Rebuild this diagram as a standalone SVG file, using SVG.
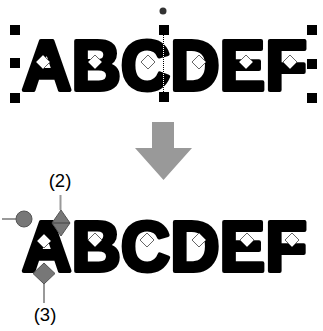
<svg xmlns="http://www.w3.org/2000/svg" width="323" height="331" viewBox="0 0 323 331">
<style>
.big{font-family:"Liberation Sans",Arial,sans-serif;font-weight:bold;font-size:71px;fill:#000;stroke:#000;stroke-width:4;stroke-linejoin:round}
.dia{fill:#fff;stroke:#666;stroke-width:1}
.h{fill:#000}
.lab{font-family:"Liberation Sans",Arial,sans-serif;font-size:18.5px;fill:#000;text-anchor:middle}
.gl{stroke:#999;stroke-width:2;fill:none}
.gh{fill:#777;stroke:#555;stroke-width:1}
</style>
<defs>
<polygon id="d" class="dia" points="0,-7 7,0 0,7 -7,0"/>
</defs>
<g id="top-text">
<text class="big" x="22" y="90" textLength="285" lengthAdjust="spacingAndGlyphs">ABCDEF</text>
<use href="#d" x="43" y="62"/>
<use href="#d" x="95" y="62"/>
<use href="#d" x="148" y="62"/>
<use href="#d" x="199" y="62"/>
<use href="#d" x="246" y="62"/>
<use href="#d" x="290" y="62"/>
</g>
<g id="selection">
<line x1="163.5" y1="35" x2="163.5" y2="93" stroke="#000" stroke-width="1" stroke-dasharray="1 1"/>
<line x1="163.5" y1="36" x2="163.5" y2="93" stroke="#fff" stroke-width="1" stroke-dasharray="1 1"/>
<rect class="h" x="10" y="25" width="10" height="10"/>
<rect class="h" x="10" y="58" width="10" height="10"/>
<rect class="h" x="10" y="93" width="10" height="10"/>
<rect class="h" x="159" y="25" width="10" height="10"/>
<rect class="h" x="159" y="92" width="10" height="10"/>
<rect class="h" x="307" y="25" width="10" height="10"/>
<rect class="h" x="307" y="59" width="10" height="10"/>
<rect class="h" x="307" y="93" width="10" height="10"/>
<circle cx="163" cy="11" r="3.5" fill="#333"/>
</g>
<g id="arrow">
<polygon points="152,122 174,122 174,148 192,148 163.5,180 135,148 152,148" fill="#999"/>
</g>
<g id="bottom-text">
<text class="big" x="22" y="270.5" textLength="285" lengthAdjust="spacingAndGlyphs">ABCDEF</text>
<use href="#d" x="44" y="241"/>
<use href="#d" x="95" y="240"/>
<use href="#d" x="147" y="240"/>
<use href="#d" x="199" y="240"/>
<use href="#d" x="247" y="240"/>
<use href="#d" x="292" y="240"/>
</g>
<g id="connectors">
<line class="gl" x1="2" y1="219" x2="16" y2="219"/>
<line class="gl" x1="60.5" y1="195" x2="60.5" y2="210"/>
<line class="gl" x1="44" y1="284" x2="44" y2="303"/>
</g>
<g id="handle-circle">
<circle class="gh" cx="24" cy="219" r="8"/>
</g>
<g id="handle-2">
<polygon class="gh" points="61,210 70,223 61,236 52,223"/>
<line x1="52" y1="223" x2="70" y2="223" stroke="#444" stroke-width="1"/>
<text class="lab" x="60" y="187">(2)</text>
</g>
<g id="handle-3">
<polygon class="gh" points="44,263 55,273.5 44,284 33,273.5"/>
<text class="lab" x="45" y="321">(3)</text>
</g>
</svg>
